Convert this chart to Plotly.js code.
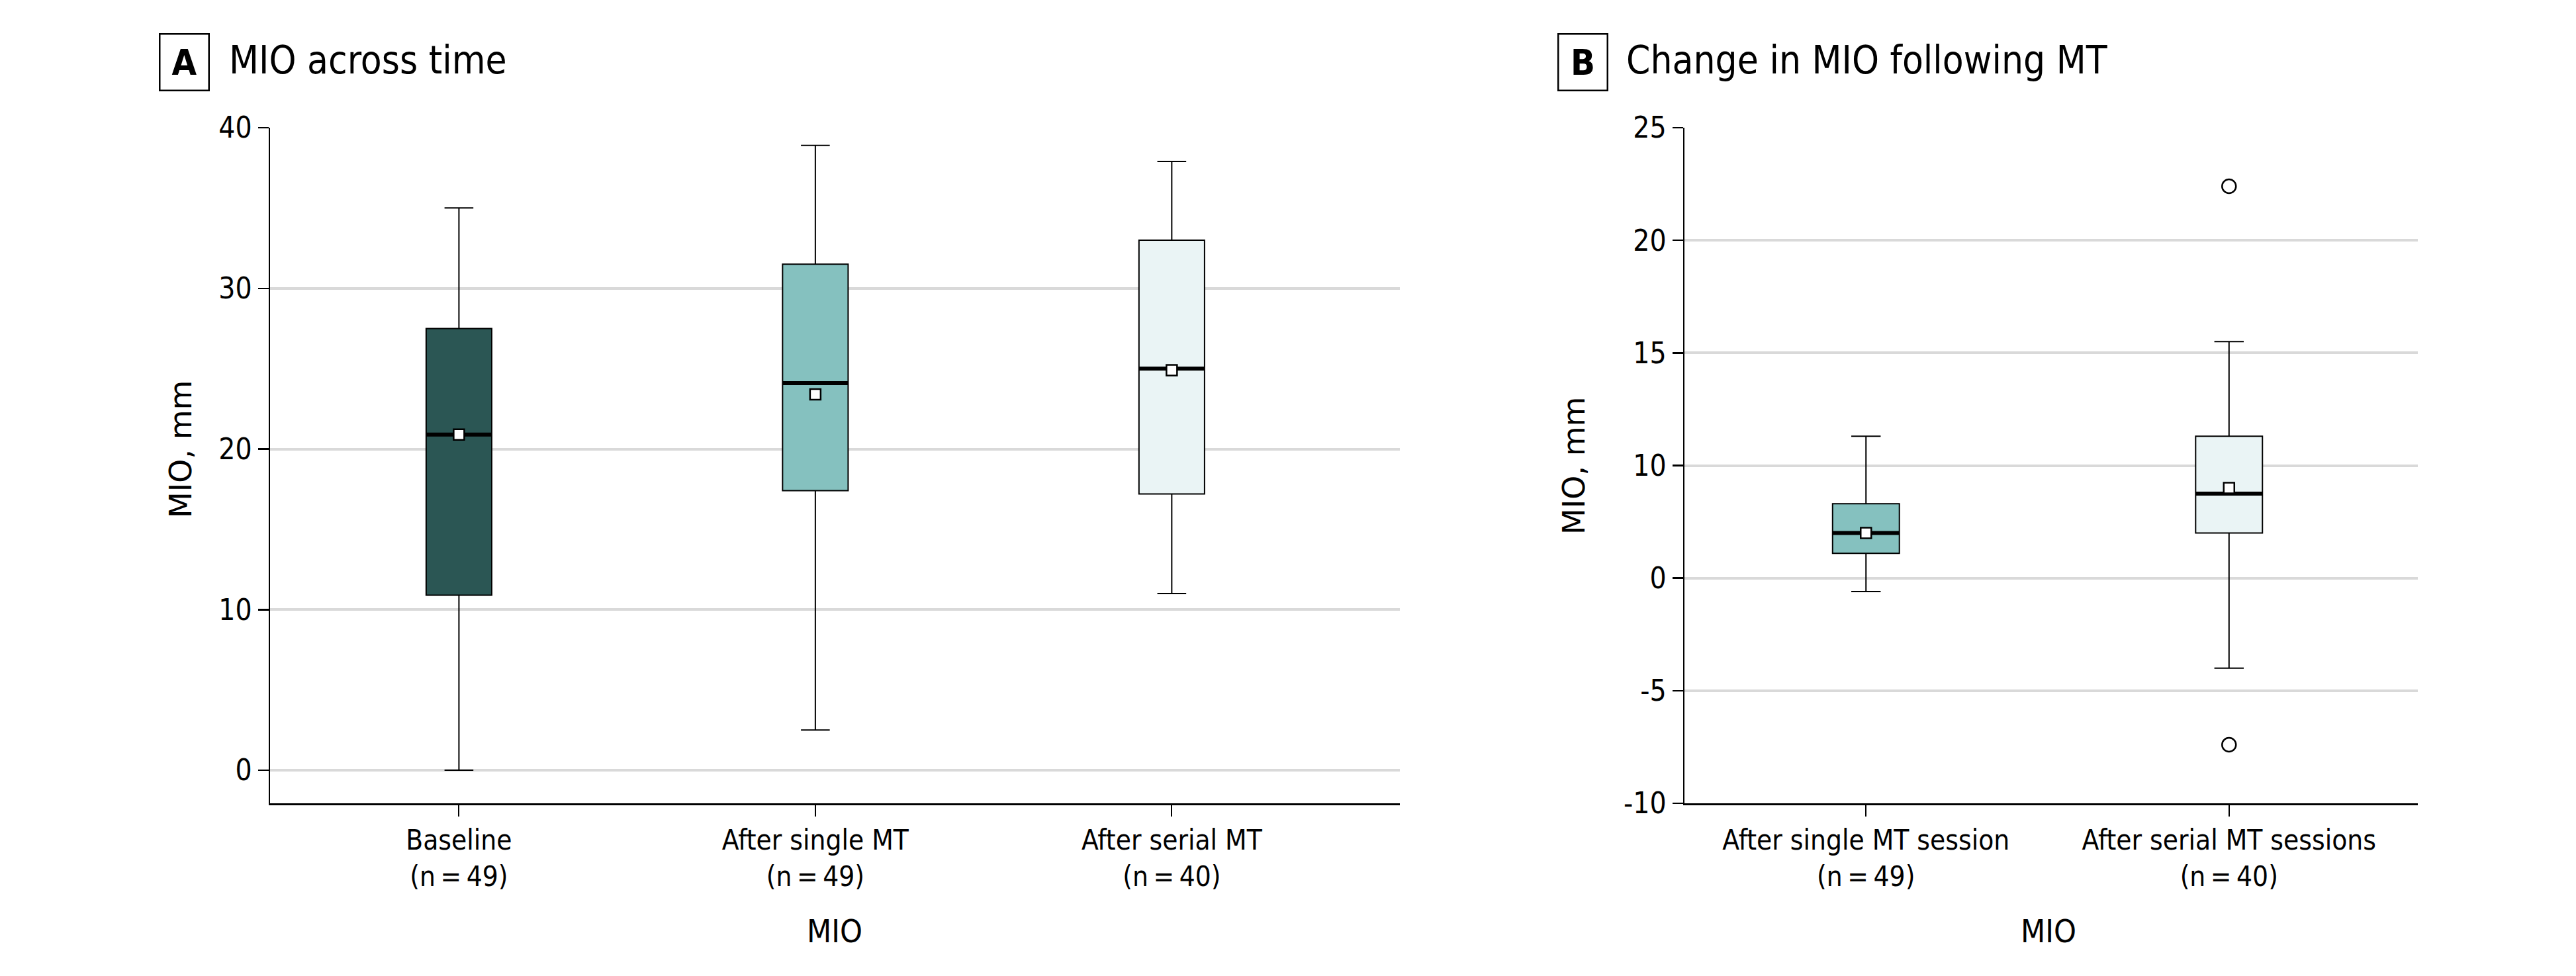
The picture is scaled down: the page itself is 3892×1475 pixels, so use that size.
<!DOCTYPE html>
<html>
<head>
<meta charset="utf-8">
<script src="https://cdn.plot.ly/plotly-3.0.1.min.js"></script>
<style>html,body{margin:0;padding:0;background:#fff}#chart{width:3892px;height:1475px}</style>
</head>
<body>
<div id="chart"></div>
<script>
// ---------- Panel A: MIO across time ----------
const catsA = ['Baseline<br>(n\u2009=\u200949)', 'After single MT<br>(n\u2009=\u200949)', 'After serial MT<br>(n\u2009=\u200940)'];
const lowA  = [0.0, 2.5, 11.0];
const q1A   = [10.9, 17.4, 17.2];
const medA  = [20.9, 24.1, 25.0];
const q3A   = [27.5, 31.5, 33.0];
const highA = [35.0, 38.9, 37.9];
const meanA = [20.9, 23.4, 24.9];
const colorsA = ['#2b5654', '#85c1bf', '#eaf4f5'];
const yTicksA = [0, 10, 20, 30, 40];

// ---------- Panel B: Change in MIO following MT ----------
const catsB = ['After single MT session<br>(n\u2009=\u200949)', 'After serial MT sessions<br>(n\u2009=\u200940)'];
const lowB  = [-0.6, -4.0];
const q1B   = [1.1, 2.0];
const medB  = [2.0, 3.75];
const q3B   = [3.3, 6.3];
const highB = [6.3, 10.5];
const meanB = [2.0, 4.0];
const colorsB = ['#85c1bf', '#eaf4f5'];
const outlierCatB = [1, 1];
const outlierValB = [17.4, -7.4];
// tick positions and the labels printed at them in the original figure
const yTickValsB = [20, 15, 10, 5, 0, -5, -10];
const yTickTextB = ['25', '20', '15', '10', '0', '-5', '-10'];

const FONT = '"Liberation Sans Narrow", "DejaVu Sans Condensed", "Roboto Condensed", sans-serif';
const BOXW = 0.184;

function panelTraces(cats, low, q1, med, q3, high, mean, colors, xa, ya) {
  const tr = [];
  cats.forEach((c, i) => {
    tr.push({
      type: 'box', x: [i], q1: [q1[i]], median: [med[i]], q3: [q3[i]],
      lowerfence: [low[i]], upperfence: [high[i]],
      width: BOXW, whiskerwidth: 0.44, fillcolor: colors[i],
      line: {color: '#000', width: 2}, boxpoints: false,
      xaxis: xa, yaxis: ya, showlegend: false, hoverinfo: 'skip'
    });
    tr.push({
      type: 'scatter', mode: 'lines', x: [i - BOXW / 2, i + BOXW / 2], y: [med[i], med[i]],
      line: {color: '#000', width: 6}, xaxis: xa, yaxis: ya, showlegend: false, hoverinfo: 'skip'
    });
  });
  tr.push({
    type: 'scatter', mode: 'markers', x: cats.map((c, i) => i), y: mean,
    marker: {symbol: 'square', size: 16, color: '#fff', line: {color: '#000', width: 2.5}},
    xaxis: xa, yaxis: ya, showlegend: false, hoverinfo: 'skip'
  });
  return tr;
}

const traces = [].concat(
  panelTraces(catsA, lowA, q1A, medA, q3A, highA, meanA, colorsA, 'x', 'y'),
  panelTraces(catsB, lowB, q1B, medB, q3B, highB, meanB, colorsB, 'x2', 'y2'),
  [{
    type: 'scatter', mode: 'markers', x: outlierCatB, y: outlierValB,
    marker: {symbol: 'circle', size: 21, color: '#fff', line: {color: '#000', width: 2.5}},
    xaxis: 'x2', yaxis: 'y2', showlegend: false, hoverinfo: 'skip'
  }]
);

const W = 3892, H = 1475;
const px = v => v / W, py = v => 1 - v / H;
const yDom = [py(1214), py(193)];

const xCommon = {
  showgrid: false, zeroline: false, showline: true, linecolor: '#000', linewidth: 3,
  ticks: 'outside', ticklen: 17, tickwidth: 2, tickcolor: '#000',
  tickfont: {family: FONT, size: 42, color: '#000'}, fixedrange: true
};
const yCommon = {
  showgrid: true, gridcolor: '#d9d9d9', gridwidth: 4, zeroline: false,
  showline: true, linecolor: '#000', linewidth: 2.5,
  ticks: 'outside', ticklen: 16, tickwidth: 2.5, tickcolor: '#000',
  tickfont: {family: FONT, size: 44, color: '#000'}, fixedrange: true
};

const layout = {
  width: W, height: H, paper_bgcolor: '#fff', plot_bgcolor: '#fff',
  margin: {l: 0, r: 0, t: 0, b: 0}, showlegend: false,
  xaxis: Object.assign({}, xCommon, {domain: [px(408), px(2115)], range: [-0.53, 2.64],
    tickvals: catsA.map((c, i) => i), ticktext: catsA, anchor: 'y'}),
  yaxis: Object.assign({}, yCommon, {domain: yDom, range: [-2.06, 40], tickvals: yTicksA, anchor: 'x'}),
  xaxis2: Object.assign({}, xCommon, {domain: [px(2545), px(3653)], range: [-0.5, 1.52],
    tickvals: catsB.map((c, i) => i), ticktext: catsB, anchor: 'y2'}),
  yaxis2: Object.assign({}, yCommon, {domain: yDom, range: [-10, 20], tickvals: yTickValsB, ticktext: yTickTextB, anchor: 'x2'}),
  annotations: [
    {xref: 'paper', yref: 'paper', x: px(240), y: py(50), xanchor: 'left', yanchor: 'top',
     text: '<b>A</b>', showarrow: false, bordercolor: '#000', borderwidth: 2.5, borderpad: 0,
     width: 72, height: 83, font: {family: FONT, size: 54, color: '#000'}},
    {xref: 'paper', yref: 'paper', x: px(344), y: py(91), xanchor: 'left', yanchor: 'middle',
     text: 'MIO across time', showarrow: false, font: {family: FONT, size: 58, color: '#000'}},
    {xref: 'paper', yref: 'paper', x: px(2353), y: py(50), xanchor: 'left', yanchor: 'top',
     text: '<b>B</b>', showarrow: false, bordercolor: '#000', borderwidth: 2.5, borderpad: 0,
     width: 72, height: 83, font: {family: FONT, size: 54, color: '#000'}},
    {xref: 'paper', yref: 'paper', x: px(2455), y: py(91), xanchor: 'left', yanchor: 'middle',
     text: 'Change in MIO following MT', showarrow: false, font: {family: FONT, size: 58, color: '#000'}},
    {xref: 'paper', yref: 'paper', x: px(273), y: py(679), xanchor: 'center', yanchor: 'middle',
     text: 'MIO, mm', textangle: -90, showarrow: false, font: {family: '"DejaVu Sans", sans-serif', size: 46, color: '#000'}},
    {xref: 'paper', yref: 'paper', x: px(2378), y: py(704), xanchor: 'center', yanchor: 'middle',
     text: 'MIO, mm', textangle: -90, showarrow: false, font: {family: '"DejaVu Sans", sans-serif', size: 46, color: '#000'}},
    {xref: 'paper', yref: 'paper', x: px(1261), y: py(1407), xanchor: 'center', yanchor: 'middle',
     text: 'MIO', showarrow: false, font: {family: FONT, size: 48, color: '#000'}},
    {xref: 'paper', yref: 'paper', x: px(3095), y: py(1407), xanchor: 'center', yanchor: 'middle',
     text: 'MIO', showarrow: false, font: {family: FONT, size: 48, color: '#000'}}
  ]
};

Plotly.newPlot('chart', traces, layout, {staticPlot: true, displayModeBar: false});
</script>
</body>
</html>
